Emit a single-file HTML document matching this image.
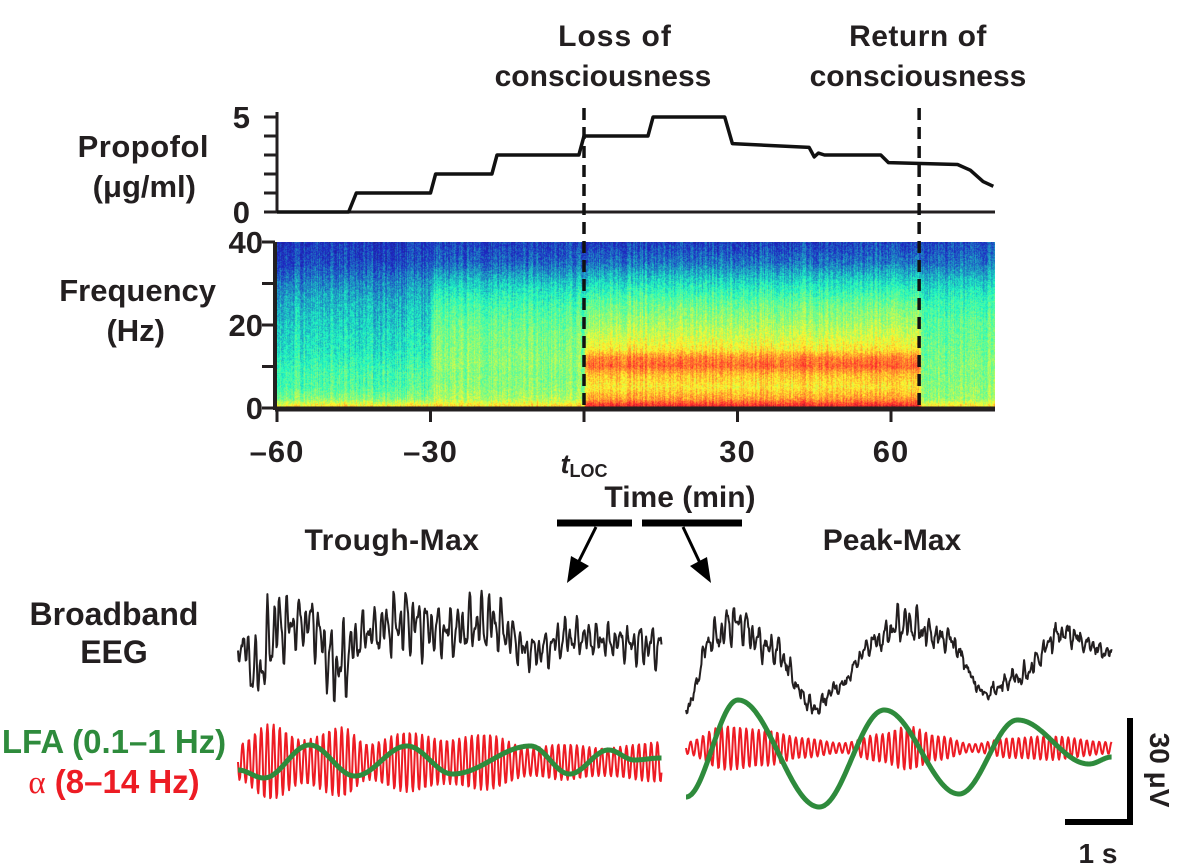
<!DOCTYPE html>
<html><head><meta charset="utf-8">
<style>
body{margin:0;background:#fff;}
svg text{font-family:"Liberation Sans",sans-serif;font-weight:bold;fill:#231f20;}
</style></head>
<body>
<div style="position:relative;width:1188px;height:868px;">
<canvas id="spec" width="718" height="166" style="position:absolute;left:277px;top:242px;"></canvas>
<svg id="fig" width="1188" height="868" style="position:absolute;left:0;top:0">
<g><text x="615" y="46" font-size="30" text-anchor="middle" letter-spacing="1">Loss of</text><text x="603" y="86" font-size="30" text-anchor="middle">consciousness</text></g>
<g><text x="918" y="46" font-size="30" text-anchor="middle" letter-spacing="0.5">Return of</text><text x="918" y="86" font-size="30" text-anchor="middle">consciousness</text></g>
<text x="209" y="157" font-size="31" text-anchor="end" letter-spacing="0.5">Propofol</text>
<text x="196" y="197" font-size="31" text-anchor="end">(μg/ml)</text>
<text x="216" y="301" font-size="31" text-anchor="end">Frequency</text>
<text x="165" y="341" font-size="31" text-anchor="end">(Hz)</text>
<text x="680" y="507" font-size="30" text-anchor="middle">Time (min)</text>
<text x="392" y="550" font-size="30" text-anchor="middle" letter-spacing="0.5">Trough-Max</text>
<text x="892" y="550" font-size="30" text-anchor="middle">Peak-Max</text>
<g><text x="114" y="625" font-size="32" text-anchor="middle">Broadband</text><text x="114" y="663" font-size="32" text-anchor="middle">EEG</text></g>
<text x="114" y="753" font-size="33" text-anchor="middle" style="fill:#2e8b3c">LFA (0.1–1 Hz)</text>
<text x="114" y="793" font-size="33" text-anchor="middle" style="fill:#ed1c24"><tspan font-family="Liberation Serif" font-weight="normal" style="fill:#ed1c24">α</tspan> (8–14 Hz)</text>
<g id="gAxes"></g>
<g id="gTraces"></g>
<g>
<path d="M1130 718 V822 H1065" fill="none" stroke="#000" stroke-width="6"/>
<text transform="translate(1150,770) rotate(90)" font-size="28" text-anchor="middle">30 μV</text>
<text x="1098" y="863" font-size="28" text-anchor="middle">1 s</text>
</g>
<g>
<line x1="557" y1="523" x2="632" y2="523" stroke="#000" stroke-width="7"/>
<line x1="642" y1="523" x2="742" y2="523" stroke="#000" stroke-width="7"/>
<line x1="596" y1="527" x2="578" y2="563" stroke="#000" stroke-width="3"/>
<polygon points="567,583 571,556 589,566" fill="#000"/>
<line x1="683" y1="527" x2="700" y2="563" stroke="#000" stroke-width="3"/>
<polygon points="711,583 690,566 707,557" fill="#000"/>
</g>
</svg>
</div>
<script>
// ---- data ----
const propTimes=[-60,-46,-44.5,-30,-29,-18,-17,-1,0,12.5,13.5,27.5,29,44,45,45.8,47,58,59.5,73,75.5,78,80];
const propLevels=[0,0,1,1,2,2,3,3,4,4,5,5,3.6,3.4,2.9,3.1,3.0,3.0,2.6,2.5,2.2,1.6,1.35];
const timeTicks=[-60,-30,0,30,60];
const timeTickLabels=["–60","–30","","30","60"];
const propTicks=[0,1,2,3,4,5];
const propTickLabels=["0","","","","","5"];
const freqTicks=[0,10,20,30,40];
const freqTickLabels=["0","","20","","40"];
const eventTimes=[0,65.5];
const specFreqs=[0,2,5,8,10,12,14,17,20,25,30,35,40];
const specSegStart=[-60,-47,-30,0,65.5];
const specProfiles=[
 [0.68,0.5,0.43,0.42,0.4,0.38,0.36,0.35,0.33,0.3,0.24,0.17,0.14],
 [0.68,0.5,0.43,0.42,0.4,0.38,0.36,0.35,0.33,0.3,0.25,0.17,0.14],
 [0.68,0.54,0.5,0.49,0.5,0.5,0.49,0.48,0.46,0.41,0.32,0.2,0.15],
 [0.92,0.74,0.64,0.7,0.8,0.76,0.64,0.58,0.53,0.46,0.35,0.22,0.15],
 [0.68,0.52,0.5,0.49,0.49,0.48,0.47,0.46,0.45,0.41,0.33,0.22,0.17]];
const leftLfaT=[0,0.4,1.1,1.8,2.6,3.3,4.5,5.1,5.7,6.1,6.5];
const leftLfa=[8,16,-17,14,-16,12,-16,12,-12,-2,-4];
const rightLfaT=[0,0.8,2.05,3.05,4.2,5.1,6.2,6.55];
const rightLfa=[47,-50,57,-40,44,-30,14,7];
const leftAlphaEnvT=[0,0.5,1.0,1.6,2.0,2.6,3.2,3.8,4.5,5.0,5.6,6.5];
const leftAlphaEnv=[18,38,22,35,18,30,22,28,14,18,14,20];
const rightAlphaEnvT=[0,0.6,1.2,1.8,2.4,3.0,3.4,3.9,4.4,5.0,5.6,6.5];
const rightAlphaEnv=[6,22,18,10,5,14,22,12,4,10,12,6];
const leftEegT=[0,0.3,0.6,1.1,1.5,2.0,2.6,3.2,3.9,4.5,5.2,5.8,6.5];
const leftEeg=[0,30,-15,-20,25,-10,-20,-10,-20,10,-5,0,5];
const rightEegT=[0,0.4,0.75,1.3,2.0,2.3,2.9,3.3,4.0,4.6,5.1,5.8,6.55];
const rightEeg=[60,-10,-25,0,60,40,-5,-25,-10,45,30,-15,5];

const tx=t=>277+(t+60)*(153.5/30);
const py=v=>212-v*19;
const fy=f=>408-f*(166/40);
const NS='http://www.w3.org/2000/svg';
const gA=document.getElementById('gAxes'), gT=document.getElementById('gTraces');
function mk(tag,attrs,parent){const e=document.createElementNS(NS,tag);for(const k in attrs)e.setAttribute(k,attrs[k]);parent.appendChild(e);return e;}
let s=0x1234567;function rnd(){s^=s<<13;s^=s>>>17;s^=s<<5;return ((s>>>0)%100000)/100000;}

(function(){
 const c=document.getElementById('spec'),ctx=c.getContext('2d'),W=c.width,H=c.height;
 const img=ctx.createImageData(W,H);
 function jet(v){v=Math.max(0,Math.min(1,v));
  const r=Math.min(Math.max(Math.min(4*v-1.5,-4*v+4.5),0),1);
  const g=Math.min(Math.max(Math.min(4*v-0.5,-4*v+3.5),0),1);
  const b=Math.min(Math.max(Math.min(4*v+0.5,-4*v+2.5),0),1);
  return [r*225+30,g*215+35,b*150+45];}
 function interp(xs,ys,x){if(x<=xs[0])return ys[0];for(let i=1;i<xs.length;i++)if(x<=xs[i]){const u=(x-xs[i-1])/(xs[i]-xs[i-1]);return ys[i-1]+u*(ys[i]-ys[i-1]);}return ys[ys.length-1];}
 for(let x=0;x<W;x++){
  const t=-60+x/W*140;
  let seg=0;for(let k=0;k<specSegStart.length;k++)if(t>=specSegStart[k])seg=k;
  const colN=(rnd()-0.5)*0.1;
  for(let y=0;y<H;y++){
   const f=(H-1-y)/H*40;
   let v=interp(specFreqs,specProfiles[seg],f)+colN+(rnd()-0.5)*0.12;
   const c3=jet(v),i=(y*W+x)*4;
   img.data[i]=c3[0];img.data[i+1]=c3[1];img.data[i+2]=c3[2];img.data[i+3]=255;}
 }
 ctx.putImageData(img,0,0);
})();

mk('line',{x1:277,y1:py(5)-5,x2:277,y2:py(0),stroke:'#231f20','stroke-width':3},gA);
mk('line',{x1:277,y1:py(0),x2:995,y2:py(0),stroke:'#231f20','stroke-width':3},gA);
propTicks.forEach((v,i)=>{mk('line',{x1:264,y1:py(v),x2:277,y2:py(v),stroke:'#231f20','stroke-width':3},gA);
 if(propTickLabels[i]){const t=mk('text',{x:250,y:py(v)+11,'font-size':31,'text-anchor':'end'},gA);t.textContent=propTickLabels[i];}});
mk('line',{x1:275,y1:242,x2:275,y2:410,stroke:'#231f20','stroke-width':4},gA);
mk('line',{x1:275,y1:409,x2:995,y2:409,stroke:'#231f20','stroke-width':5},gA);
freqTicks.forEach((v,i)=>{mk('line',{x1:262,y1:fy(v),x2:275,y2:fy(v),stroke:'#231f20','stroke-width':3},gA);
 if(freqTickLabels[i]){const t=mk('text',{x:263,y:fy(v)+11,'font-size':31,'text-anchor':'end'},gA);t.textContent=freqTickLabels[i];}});
timeTicks.forEach((v,i)=>{mk('line',{x1:tx(v),y1:409,x2:tx(v),y2:422,stroke:'#231f20','stroke-width':3},gA);
 const t=mk('text',{x:tx(v),y:462,'font-size':31,'text-anchor':'middle','letter-spacing':'1'},gA);t.textContent=timeTickLabels[i];});
const tl=mk('text',{x:tx(0),y:473,'font-size':27,'text-anchor':'middle','font-style':'italic','font-weight':'normal'},gA);
tl.innerHTML='t<tspan font-size="18" font-style="normal" dy="4">LOC</tspan>';


eventTimes.forEach(t=>{const l=mk('line',{x1:tx(t),y1:108,x2:tx(t),y2:410,stroke:'#111','stroke-width':3.5,'stroke-dasharray':'12,7'},gA);
 
 });
const pp=mk('polyline',{points:propTimes.map((t,i)=>tx(t)+','+py(propLevels[i])).join(' '),fill:'none',stroke:'#111','stroke-width':3.5,'stroke-linejoin':'round'},gT);



function cub(xs,ys,x){
 if(x<=xs[0])return ys[0];for(let i=1;i<xs.length;i++)if(x<=xs[i]){const u=(x-xs[i-1])/(xs[i]-xs[i-1]);const w=(1-Math.cos(Math.PI*u))/2;return ys[i-1]+w*(ys[i]-ys[i-1]);}return ys[ys.length-1];}
const pxPerS=65;
function drawTrace(x0,x1,fn,color,w,name){
 const pts=[];for(let x=x0;x<=x1;x+=0.7){pts.push(x.toFixed(1)+','+fn((x-x0)/pxPerS).toFixed(1));}
 const p=mk('polyline',{points:pts.join(' '),fill:'none',stroke:color,'stroke-width':w,'stroke-linejoin':'round'},gT);
 
 }
function fast(t,seed){return Math.sin(2*Math.PI*10.3*t+seed)*0.6+Math.sin(2*Math.PI*17*t+seed*2)*0.3+Math.sin(2*Math.PI*6.1*t)*0.4;}
drawTrace(238,662,t=>642+cub(leftEegT,leftEeg,t)+cub(leftAlphaEnvT,leftAlphaEnv,t)*1.1*fast(t,0.3)+(rnd()-0.5)*6,'#231f20',2,'trough-max-eeg');
drawTrace(238,662,t=>762+cub(leftAlphaEnvT,leftAlphaEnv,t)*Math.sin(2*Math.PI*10.5*t),'#ed1c24',2,'trough-max-alpha');
drawTrace(238,662,t=>762+cub(leftLfaT,leftLfa,t),'#2e8b3c',5,'trough-max-lfa');
drawTrace(686,1112,t=>648+cub(rightEegT,rightEeg,t)+cub(rightAlphaEnvT,rightAlphaEnv,t)*0.9*fast(t,1.1)+(rnd()-0.5)*7,'#231f20',2,'peak-max-eeg');
drawTrace(686,1112,t=>748+cub(rightAlphaEnvT,rightAlphaEnv,t)*Math.sin(2*Math.PI*10.5*t),'#ed1c24',2,'peak-max-alpha');
drawTrace(686,1112,t=>750+cub(rightLfaT,rightLfa,t),'#2e8b3c',5,'peak-max-lfa');
</script>
</body></html>
